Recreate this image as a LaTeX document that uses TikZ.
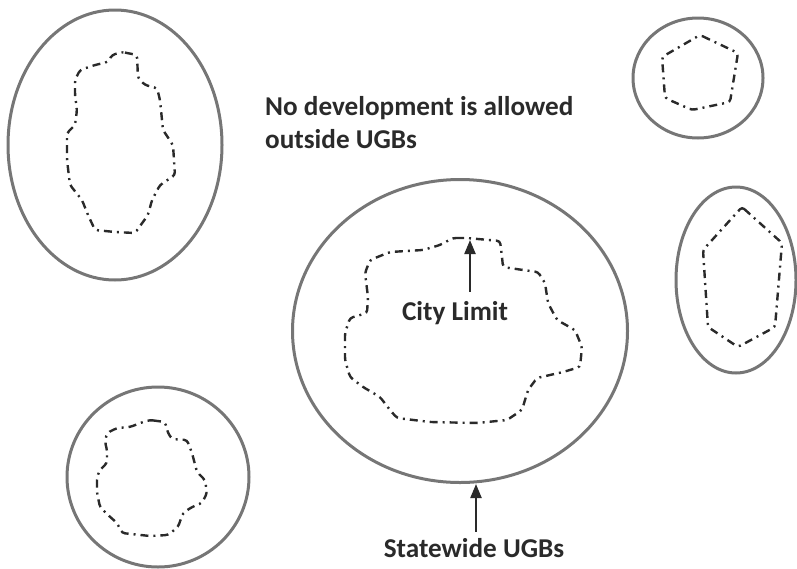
\documentclass[tikz,border=0pt]{standalone}
\usepackage{fontspec}
\setmainfont{Carlito}
\usetikzlibrary{shapes.geometric,arrows.meta}
\definecolor{ringgray}{HTML}{767676}
\definecolor{limitdark}{HTML}{2A2A2A}
\definecolor{arrowdark}{HTML}{2A2A2A}
\begin{document}
\begin{tikzpicture}[x=1pt,y=-1pt,
  ugbring/.style={ellipse,draw=ringgray,line width=3pt,inner sep=0pt,fill=none},
  citylimit/.style={draw=limitdark,line width=2.4pt,rounded corners=3pt,
    dash pattern=on 8pt off 5pt on 2pt off 5pt},
  lbl/.style={font=\bfseries\fontsize{27.2}{33}\selectfont,text=arrowdark,inner sep=0pt},
  upar/.style={draw=arrowdark,line width=2.2pt,-{Triangle[length=14pt,width=11pt]}}]
\useasboundingbox (0,0) rectangle (797,568);

% rings (UGBs)
\node[ugbring,minimum width=214pt,minimum height=270pt] (ugbA) at (115,145) {};
\node[ugbring,minimum width=130pt,minimum height=120pt] (ugbB) at (698,78) {};
\node[ugbring,minimum width=120pt,minimum height=186pt] (ugbC) at (736,280) {};
\node[ugbring,minimum width=182pt,minimum height=180pt] (ugbD) at (158,477) {};
\node[ugbring,minimum width=335pt,minimum height=303pt] (ugb) at (460,331) {};

% city limits
\draw[citylimit] (122,52) -- (137,55) -- (138,78) -- (145,85) -- (157,88) -- (160,100)
  -- (163,130) -- (173,145) -- (175,175) -- (160,185) -- (152,200) -- (148,215)
  -- (135,233) -- (115,232) -- (95,230) -- (88,215) -- (82,200) -- (70,185)
  -- (67,160) -- (67,133) -- (75,125) -- (77,110) -- (75,95) -- (75,80) -- (80,70)
  -- (95,65) -- (108,62) -- (112,55) -- cycle;

\draw[citylimit] (700,35) -- (738,53) -- (730,102) -- (692,110) -- (665,98) -- (662,57) -- cycle;

\draw[citylimit] (742,207) -- (782,243) -- (775,327) -- (738,347) -- (708,327) -- (703,250) -- cycle;

\draw[citylimit] (150,420) -- (165,422) -- (168,433) -- (172,439) -- (187,440) -- (192,453)
  -- (197,472) -- (205,480) -- (207,493) -- (202,503) -- (192,507) -- (183,513)
  -- (178,527) -- (168,535) -- (150,536) -- (122,533) -- (117,523) -- (108,515)
  -- (100,507) -- (97,493) -- (97,477) -- (100,470) -- (107,463) -- (107,450)
  -- (105,442) -- (107,433) -- (117,428) -- (130,427) -- (143,422) -- cycle;

\draw[citylimit] (453,238) -- (467,238) -- (500,241) -- (502,257) -- (503,267) -- (523,270)
  -- (538,272) -- (545,283) -- (548,303) -- (557,320) -- (575,330) -- (582,347)
  -- (580,367) -- (563,372) -- (537,378) -- (528,390) -- (522,410) -- (507,420)
  -- (477,423) -- (430,422) -- (397,418) -- (390,410) -- (380,397) -- (363,387)
  -- (350,377) -- (345,360) -- (345,333) -- (350,318) -- (367,313) -- (368,297)
  -- (365,273) -- (370,260) -- (390,252) -- (423,250) -- (440,245) -- cycle;

% labels
\node[lbl,anchor=north west,align=left] (note) at (265,96)
  {No development is allowed\\outside UGBs};
\node[lbl,anchor=base] (city) at (455,320) {City Limit};
\node[lbl,anchor=base] (state) at (474,557) {Statewide UGBs};

% arrows
\coordinate (cltop) at (470,240);
\draw[upar] ([xshift=15pt,yshift=9pt]city.north) -- (cltop);
\draw[upar] ([xshift=2pt,yshift=6pt]state.north) -- ([xshift=2pt]state.north |- ugb.south);
\end{tikzpicture}
\end{document}
